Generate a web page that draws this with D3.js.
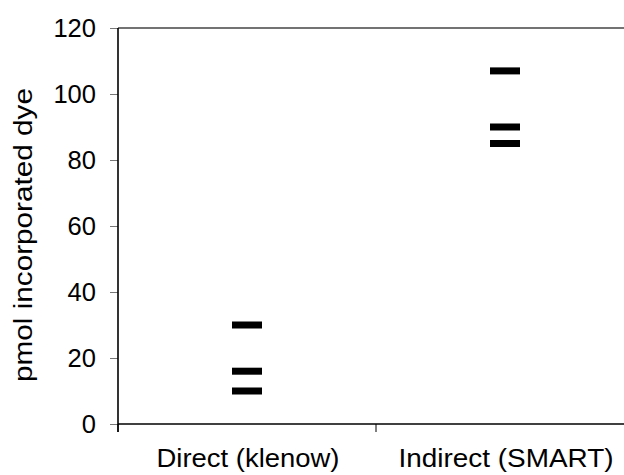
<!DOCTYPE html>
<html>
<head>
<meta charset="utf-8">
<script src="https://cdn.jsdelivr.net/npm/d3@7"></script>
<style>
  html, body { margin: 0; padding: 0; background: #fff; }
  svg { display: block; }
  text { font-family: "Liberation Sans", Arial, sans-serif; fill: #000; }
</style>
</head>
<body>
<svg id="chart" width="624" height="475"></svg>
<script>
// ---- data ----
const categories = ["Direct (klenow)", "Indirect (SMART)"];
const directValues = [30, 16, 10];
const indirectValues = [107, 90, 85];
const yTickValues = [0, 20, 40, 60, 80, 100, 120];
const yLabel = "pmol incorporated dye";

(function () {
const seriesByCategory = [directValues, indirectValues];
const points = [];
categories.forEach((c, i) => seriesByCategory[i].forEach(v => points.push({cat: c, value: v})));

const FS = 25;
const svg = d3.select("#chart");
const mLeft = 118, mRight = 634, mTop = 28, mBottom = 424;

const x = d3.scaleBand().domain(categories).range([mLeft, mRight]).paddingInner(0).paddingOuter(0);
const y = d3.scaleLinear().domain([0, 120]).range([mBottom, mTop]);

// top frame line
svg.append("line")
  .attr("x1", mLeft).attr("x2", 624).attr("y1", y(120)).attr("y2", y(120))
  .attr("stroke", "#444").attr("stroke-width", 1.5);

// y axis
const yAxis = d3.axisLeft(y).tickValues(yTickValues).tickSize(8).tickSizeOuter(0).tickPadding(14);
const gy = svg.append("g").attr("transform", `translate(${mLeft},0)`).call(yAxis);
gy.select(".domain").remove();
gy.selectAll(".tick line").attr("stroke", "#777").attr("stroke-width", 1);
gy.selectAll(".tick text")
  .attr("font-size", FS)
  .attr("font-family", "Liberation Sans, Arial, sans-serif")
  .attr("fill", "#000")
  .attr("textLength", d => String(d).length * 14.2)
  .attr("lengthAdjust", "spacingAndGlyphs");

// x axis ticks
const boundaries = [mLeft, ...categories.slice(1).map(c => x(c)), mRight];
svg.append("g").selectAll("line").data(boundaries).join("line")
  .attr("x1", d => d).attr("x2", d => d)
  .attr("y1", mBottom).attr("y2", mBottom + 8)
  .attr("stroke", "#000").attr("stroke-width", 1);

svg.append("line")
  .attr("x1", mLeft).attr("x2", mRight).attr("y1", y(0)).attr("y2", y(0))
  .attr("stroke", "#000").attr("stroke-width", 1.6);
svg.append("line")
  .attr("x1", mLeft).attr("x2", mLeft).attr("y1", y(120)).attr("y2", y(0) + 8)
  .attr("stroke", "#000").attr("stroke-width", 1.6);

const xLabelWidths = [183, 215];
svg.append("g").selectAll("text").data(categories).join("text")
  .attr("x", d => x(d) + x.bandwidth() / 2 + 1)
  .attr("y", 467)
  .attr("text-anchor", "middle")
  .attr("font-size", FS)
  .attr("textLength", (d, i) => xLabelWidths[i])
  .attr("lengthAdjust", "spacingAndGlyphs")
  .text(d => d);

// y label
svg.append("text")
  .attr("transform", `translate(32,${(88 + 382) / 2}) rotate(-90)`)
  .attr("text-anchor", "middle")
  .attr("font-size", FS)
  .attr("textLength", 294)
  .attr("lengthAdjust", "spacingAndGlyphs")
  .text(yLabel);

// markers (dash)
const mw = 30, mh = 7;
svg.append("g").selectAll("rect").data(points).join("rect")
  .attr("x", d => x(d.cat) + x.bandwidth() / 2 - mw / 2)
  .attr("y", d => y(d.value) - mh / 2)
  .attr("width", mw).attr("height", mh)
  .attr("fill", "#000");
})();
</script>
</body>
</html>
